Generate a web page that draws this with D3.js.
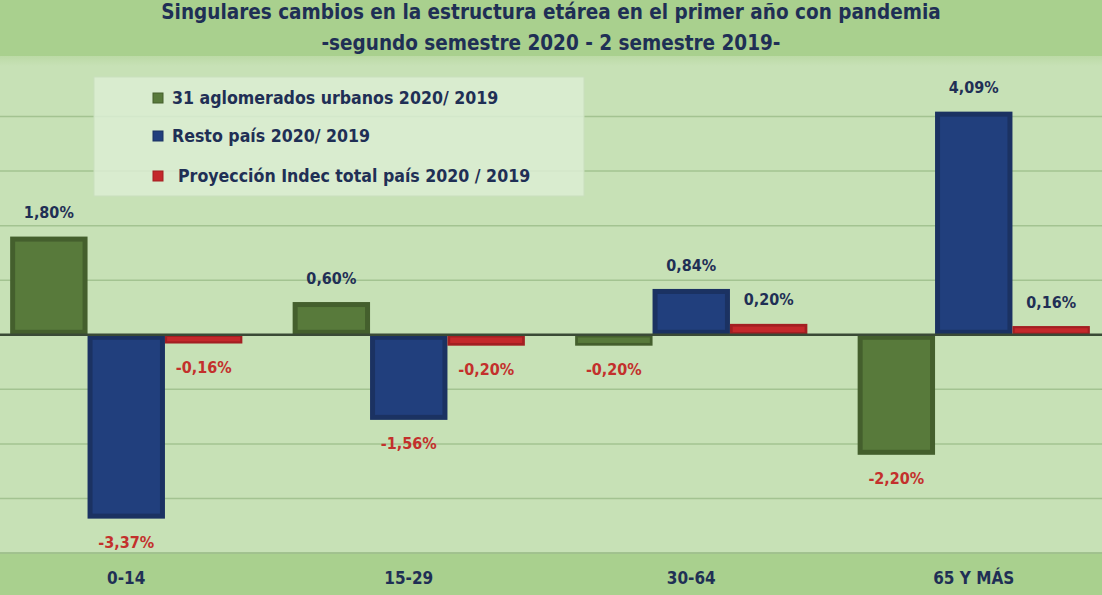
<!DOCTYPE html>
<html>
<head>
<meta charset="utf-8">
<script src="https://cdn.jsdelivr.net/npm/d3@7"></script>
<style>
  body { margin: 0; background: #a9d08e; }
  svg { display: block; }
  text { font-family: "Liberation Sans Narrow", "DejaVu Sans Condensed", "Open Sans", sans-serif; font-weight: bold; }
</style>
</head>
<body>
<svg id="chart" width="1102" height="595"></svg>
<script>
// data
const categories = ["0-14", "15-29", "30-64", "65 Y MÁS"]
const seriesNames = ["31 aglomerados urbanos 2020/ 2019", "Resto país 2020/ 2019", "Proyección Indec total país 2020 / 2019"]
const urbanos = [1.80, 0.60, -0.20, -2.20]
const resto = [-3.37, -1.56, 0.84, 4.09]
const indec = [-0.16, -0.20, 0.20, 0.16]
const yTicks = [-4, -3, -2, -1, 0, 1, 2, 3, 4, 5]
const titleLines = ["Singulares cambios en la estructura etárea en el primer año con pandemia", "-segundo semestre 2020 - 2 semestre 2019-"]

const W = 1102, H = 595
const svg = d3.select("#chart")

// colors for each series: [main, dark edge]
const palette = [
  ["#587a3b", "#445f2d"],
  ["#213f7d", "#1b3262"],
  ["#c4282b", "#a31f22"]
]
const navy = "#1f2f55"
const redText = "#c3302c"

let series = [urbanos, resto, indec]

let x0 = d3.scaleBand()
  .domain(categories)
  .range([-15, 1115])
  .paddingInner(0.178)
  .paddingOuter(0.089)

let x1 = d3.scaleBand()
  .domain(d3.range(series.length))
  .range([0, x0.bandwidth()])

let y = d3.scaleLinear()
  .domain([-4, 5])
  .range([553, 62])

// plot area background, soft edge at the top
let defs = svg.append("defs")
let grad = defs.append("linearGradient")
  .attr("id", "plotbg").attr("x1", 0).attr("x2", 0).attr("y1", 0).attr("y2", 1)
grad.append("stop").attr("offset", 0).attr("stop-color", "#bcdaa6")
grad.append("stop").attr("offset", 0.02).attr("stop-color", "#c7e1b6")
grad.append("stop").attr("offset", 1).attr("stop-color", "#c7e1b6")

svg.append("rect")
  .attr("x", 0).attr("y", 56)
  .attr("width", W).attr("height", 553 - 56)
  .attr("fill", "url(#plotbg)")

// gridlines
svg.append("g")
  .selectAll("line")
  .data(yTicks.filter(d => d != 0 && d != 5))
  .join("line")
    .attr("x1", 0).attr("x2", W)
    .attr("y1", d => y(d)).attr("y2", d => y(d))
    .attr("stroke", "#a3c391")
    .attr("stroke-width", 1.5)

// legend box
let legend = svg.append("g")
legend.append("rect")
  .attr("x", 94).attr("y", 77)
  .attr("width", 490).attr("height", 119)
  .attr("fill", "#dcedd3")
  .attr("fill-opacity", 0.85)
  .attr("stroke", "#c9dfbd")

let legendY = [98, 136, 176]
let legendX = [172, 172, 178]
seriesNames.forEach((name, i) => {
  legend.append("rect")
    .attr("x", 153).attr("y", legendY[i] - 5)
    .attr("width", 10).attr("height", 10)
    .attr("fill", palette[i][0])
    .attr("stroke", palette[i][1])
  legend.append("text")
    .attr("x", legendX[i]).attr("y", legendY[i])
    .attr("dy", "0.35em")
    .attr("font-size", 17.6)
    .attr("fill", navy)
    .text(name)
})

// bars with a bevel look
let groups = svg.append("g")
  .selectAll("g")
  .data(categories)
  .join("g")
    .attr("transform", d => "translate(" + x0(d) + ",0)")

groups.each(function(cat, ci){
  let g = d3.select(this)
  series.forEach((vals, si) => {
    let v = vals[ci]
    let bx = x1(si), bw = x1.bandwidth()
    let top = Math.min(y(v), y(0)), h = Math.abs(y(v) - y(0))
    let inset = Math.min(5, h / 4)
    g.append("rect")
      .attr("x", bx).attr("y", top)
      .attr("width", bw).attr("height", h)
      .attr("fill", palette[si][1])
    g.append("rect")
      .attr("x", bx + inset).attr("y", top + inset)
      .attr("width", bw - 2 * inset).attr("height", Math.max(0, h - 2 * inset))
      .attr("fill", palette[si][0])

    let label = v.toFixed(2).replace(".", ",") + "%"
    g.append("text")
      .attr("x", bx + bw / 2)
      .attr("y", v >= 0 ? y(v) - 24 : y(v) + 24)
      .attr("dy", "0.35em")
      .attr("text-anchor", "middle")
      .attr("font-size", 16)
      .attr("fill", v >= 0 ? navy : redText)
      .text(label)
  })
})

// zero line
svg.append("line")
  .attr("x1", 0).attr("x2", W)
  .attr("y1", y(0)).attr("y2", y(0))
  .attr("stroke", "#3a4a36")
  .attr("stroke-width", 2.5)

// bottom border of plot area
svg.append("line")
  .attr("x1", 0).attr("x2", W)
  .attr("y1", 553).attr("y2", 553)
  .attr("stroke", "#9fbf8c")
  .attr("stroke-width", 1.5)

// category axis
let xAxis = d3.axisBottom(x0).tickSize(0).tickPadding(0)
let ax = svg.append("g")
  .attr("transform", "translate(0,578)")
  .call(xAxis)
ax.select(".domain").remove()
ax.selectAll("text")
  .attr("dy", "0.35em")
  .attr("y", 0)
  .attr("font-size", 17)
  .attr("fill", navy)
  .style("font-family", null)

// title
svg.append("g")
  .selectAll("text")
  .data(titleLines)
  .join("text")
    .attr("x", W / 2)
    .attr("y", (d, i) => 12 + i * 31)
    .attr("dy", "0.35em")
    .attr("text-anchor", "middle")
    .attr("font-size", 20.5)
    .attr("fill", navy)
    .text(d => d)
</script>
</body>
</html>
